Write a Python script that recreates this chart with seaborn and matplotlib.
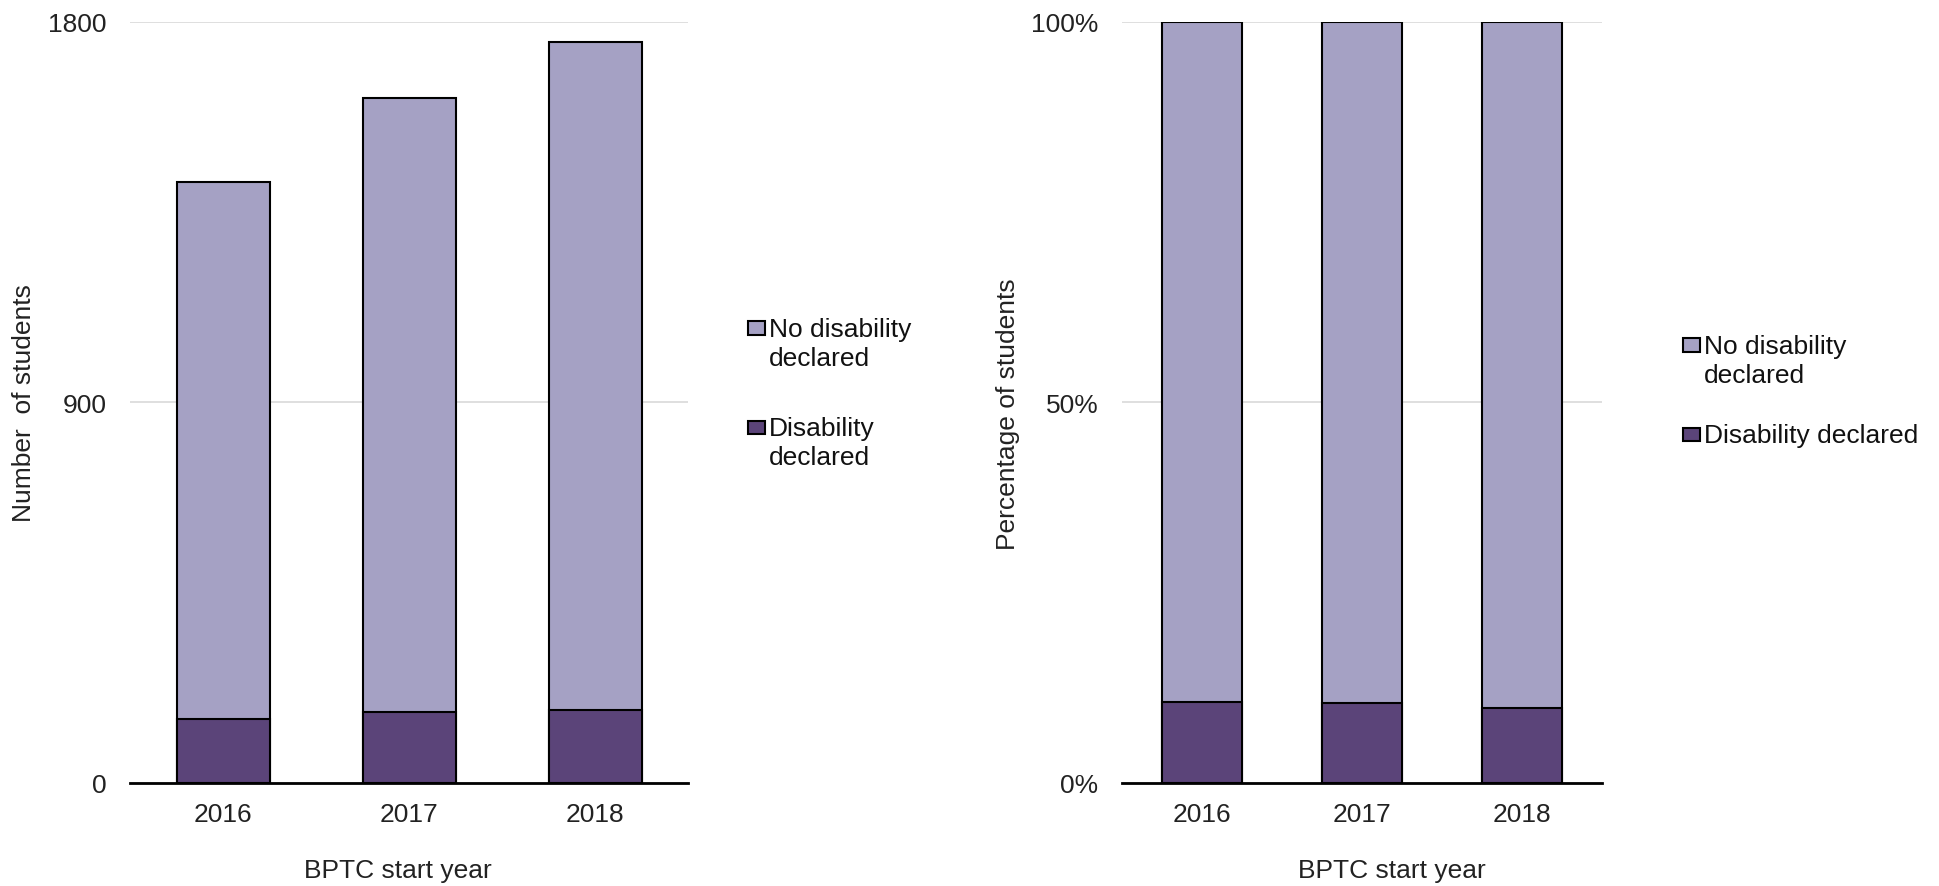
import numpy as np
import pandas as pd
import seaborn as sns
import matplotlib.pyplot as plt
from matplotlib.patches import Rectangle

# values
years = ["2016", "2017", "2018"]
disability_n = [151, 168, 173]
no_disability_n = [1269, 1451, 1580]
disability_pct = [10.6, 10.5, 9.9]
no_disability_pct = [89.4, 89.5, 90.1]

light = "#a5a1c4"
dark = "#5b4479"
fs = 19

sns.set_theme(style="white")
plt.rcParams["font.family"] = ["Liberation Sans", "DejaVu Sans"]

df = pd.DataFrame({
    "year": years,
    "dis_n": disability_n,
    "total_n": np.add(disability_n, no_disability_n),
    "dis_pct": disability_pct,
    "total_pct": np.add(disability_pct, no_disability_pct),
})

W, H = 1939, 887
fig = plt.figure(figsize=(W / 100, H / 100), dpi=100)
ax1 = fig.add_axes([130 / W, 1 - 784 / H, 558 / W, 761.3 / H])
ax2 = fig.add_axes([1122 / W, 1 - 784 / H, 480 / W, 761.3 / H])


def stacked(ax, top_col, bottom_col):
    # light bar = full stack, dark bar drawn over it from zero
    sns.barplot(data=df, x="year", y=top_col, color=light, saturation=1,
                width=0.5, edgecolor="black", linewidth=1.5, errorbar=None, ax=ax)
    sns.barplot(data=df, x="year", y=bottom_col, color=dark, saturation=1,
                width=0.5, edgecolor="black", linewidth=1.5, errorbar=None, ax=ax)
    ax.grid(axis="y", color="#d9d9d9", linewidth=1.2)
    ax.set_axisbelow(True)
    sns.despine(ax=ax, left=True)
    ax.spines["bottom"].set_color("black")
    ax.spines["bottom"].set_linewidth(2)
    ax.tick_params(axis="y", length=0, pad=17, labelsize=fs, colors="#222222")
    ax.tick_params(axis="x", length=0, pad=14, labelsize=fs, colors="#222222")


stacked(ax1, "total_n", "dis_n")
ax1.set_ylim(0, 1800)
ax1.set_yticks([0, 900, 1800])
ax1.set_xlabel("BPTC start year", fontsize=fs, color="#222222")
ax1.set_ylabel("Number  of students", fontsize=fs, color="#222222")
ax1.xaxis.set_label_coords(0.48, -0.098)
ax1.yaxis.set_label_coords(-0.168, 0.5)

stacked(ax2, "total_pct", "dis_pct")
ax2.set_ylim(0, 100)
ax2.set_yticks([0, 50, 100])
ax2.set_yticklabels(["0%", "50%", "100%"])
ax2.set_xlabel("BPTC start year", fontsize=fs, color="#222222")
ax2.set_ylabel("Percentage of students", fontsize=fs, color="#222222")
ax2.xaxis.set_label_coords(0.5625, -0.098)
ax2.yaxis.set_label_coords(-0.2125, 0.486)


def legend_entry(x, y_top, label):
    # small square key next to the first line of the label (pixel coords from top-left)
    fig.patches.append(Rectangle((x / W, 1 - (y_top + 13.5) / H), 16.5 / W, 13.5 / H,
                                 facecolor=label[1], edgecolor="black", linewidth=1.5,
                                 transform=fig.transFigure, figure=fig))
    fig.text((x + 21) / W, 1 - (y_top - 4) / H, label[0], fontsize=fs, color="#111111",
             va="top", ha="left", linespacing=1.25)


legend_entry(748, 322, ("No disability\ndeclared", light))
legend_entry(748, 421.5, ("Disability\ndeclared", dark))
legend_entry(1683, 339, ("No disability\ndeclared", light))
legend_entry(1683, 428.5, ("Disability declared", dark))

fig.savefig("out.png", dpi=100)
